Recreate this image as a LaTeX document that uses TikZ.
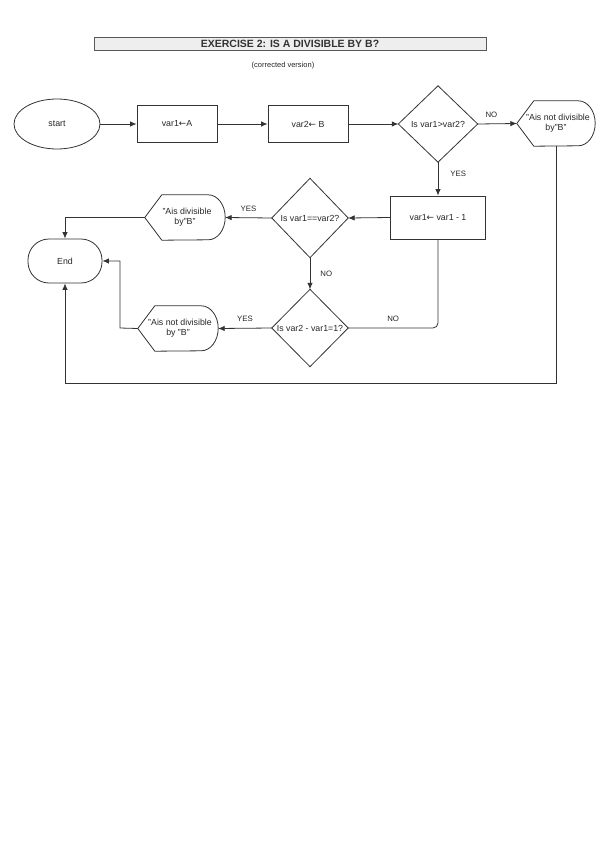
\documentclass[tikz,border=0pt]{standalone}
\usepackage{fontspec}
\setmainfont{Liberation Sans}
\newfontfamily\dvs{DejaVu Sans}
\usetikzlibrary{shapes.geometric,arrows.meta}
\definecolor{lncol}{HTML}{333333}
\definecolor{titlefill}{HTML}{EEEEEE}
\newcommand\dispshape[2]{% node name, half height
  \draw[shapeline] (#1.west) -- ([xshift=17pt]#1.north west) -- ([xshift=-17pt]#1.north east)
    arc[start angle=90,end angle=-90,x radius=17pt,y radius=#2pt]
    -- ([xshift=17pt]#1.south west) -- cycle;}
\newcommand\diashape[1]{%
  \draw[shapeline] (#1.west) -- (#1.north) -- (#1.east) -- (#1.south) -- cycle;}
\begin{document}
\begin{tikzpicture}[x=1pt,y=-1pt,
  shapeline/.style={draw=lncol,line width=0.8pt},
  conn/.style={draw=lncol,line width=0.8pt},
  arr/.style={conn,-{Latex[length=6.5pt,width=5.5pt]}},
  txt/.style={font=\fontsize{8.8}{9.8}\selectfont,align=center,inner sep=0pt,text=black!85},
  lbl/.style={font=\fontsize{7.8}{9}\selectfont,inner sep=0pt,text=black!85},
  procbox/.style={txt,shapeline,minimum width=80pt,minimum height=37pt},
  diabox/.style={txt,minimum width=76pt,minimum height=77pt},
  dispbox/.style={txt,minimum width=80pt,minimum height=45pt},
]
\useasboundingbox (0,0) rectangle (600,848);
% title
\node[draw=gray!70!black,fill=titlefill,line width=0.6pt,minimum width=392pt,minimum height=13pt,inner sep=0pt,
  font=\fontsize{10.5}{11}\selectfont\bfseries,text=black!80] (title) at (290,43.5) {EXERCISE 2: IS A DIVISIBLE BY B?};
\node[font=\fontsize{7.5}{9}\selectfont,inner sep=0pt,text=black!85] (sub) at (283,66) {(corrected version)};

% nodes
\node[ellipse,shapeline,txt,minimum width=86pt,minimum height=50pt] (start) at (57,124) {start};
\node[procbox] (b1) at (177,124) {var1{\dvs ←}A};
\node[procbox] (b2) at (308,124) {var2{\dvs ←} B};
\node[diabox,minimum width=79pt,minimum height=76pt] (d1) at (438,124) {Is var1 \kern-2pt>var2?};
\diashape{d1}
\node[dispbox,minimum width=78pt] (s1) at (556,123.5) {\kern4pt"Ais not divisible\\by"B"};
\dispshape{s1}{22.5}
\node[procbox,minimum width=95pt,minimum height=43pt] (b3) at (438,217.5) {var1{\dvs ←} var1 - 1};
\node[diabox,minimum height=79pt] (d2) at (310,218) {Is var1==var2?};
\diashape{d2}
\node[dispbox] (s2) at (185,217.5) {\kern4pt"Ais divisible\\by"B"};
\dispshape{s2}{22.5}
\node[txt,shapeline,rounded corners=21pt,minimum width=74pt,minimum height=44pt] (endn) at (65,261) {End};
\node[diabox] (d3) at (310,328) {Is var2 - var1=1?};
\diashape{d3}
\node[dispbox] (s3) at (178,328.5) {\kern4pt"Ais not divisible\\by "B"};
\dispshape{s3}{22.5}

% connectors
\draw[arr] (start) -- (b1);
\draw[arr] (b1) -- (b2);
\draw[arr] (b2) -- (d1.west);
\draw[arr] (d1.east) -- (s1.west) node[lbl,pos=0.35,above=6pt] (no1) {NO};
\draw[arr] (d1.south) -- (b3.north) node[lbl,pos=0.35,right=12pt] (yes1) {YES};
\draw[arr] (b3.west) -- (d2.east);
\draw[arr] (d2.west) -- (s2.east) node[lbl,pos=0.5,above=6pt] (yes2) {YES};
\draw[arr] (s2.west) -| (endn.north);
\draw[arr] (d2.south) -- (d3.north) node[lbl,pos=0.5,right=10pt] (no2) {NO};
\draw[arr] (d3.west) -- (s3.east) node[lbl,pos=0.5,above=6pt] (yes3) {YES};
\coordinate (c2) at (120,328);
\draw[arr] (s3.west) -- (c2) |- (endn.east);
\draw[conn,rounded corners=5pt] (b3.south) |- (d3.east) node[lbl,pos=0.75,above=6pt] (no3) {NO};
\coordinate (c1) at (556,383);
\draw[arr] (s1.south) -- (c1) -| (endn.south);
\end{tikzpicture}
\end{document}
